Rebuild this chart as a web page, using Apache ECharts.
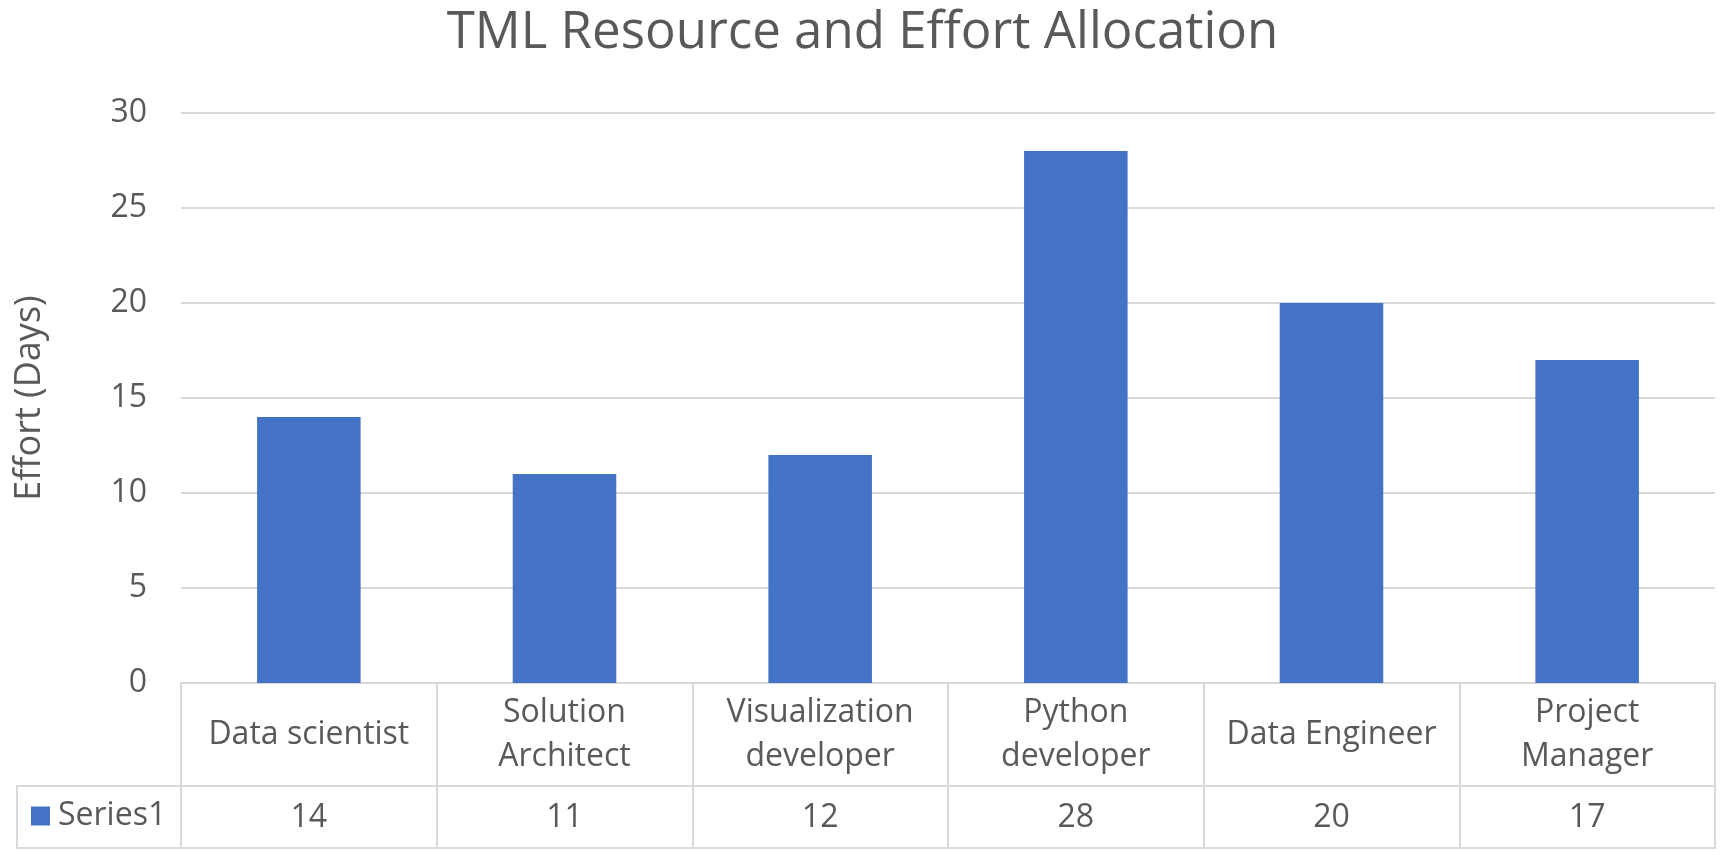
<!DOCTYPE html>
<html>
<head>
<meta charset="utf-8">
<script src="https://cdn.jsdelivr.net/npm/echarts@6/dist/echarts.min.js"></script>
<style>
html,body{margin:0;padding:0;background:#fff;}
#chart{width:1725px;height:855px;}
</style>
</head>
<body>
<div id="chart"></div>
<script>
const titleText = 'TML Resource and Effort Allocation';
const yAxisTitle = 'Effort (Days)';
const seriesName = 'Series1';
const categories = ['Data scientist', 'Solution\nArchitect', 'Visualization\ndeveloper', 'Python\ndeveloper', 'Data Engineer', 'Project\nManager'];
const values = [14, 11, 12, 28, 20, 17];
const yTicks = { min: 0, max: 30, interval: 5 };

const FONT = '"Open Sans", "Noto Sans", sans-serif';
const TXT = '#595959';
const LINE = '#D9D9D9';
const FS = 32;

const chart = echarts.init(document.getElementById('chart'));
chart.setOption({
  animation: false,
  backgroundColor: '#ffffff',
  textStyle: { fontFamily: FONT },
  title: {
    text: titleText,
    left: 'center',
    top: 3,
    textStyle: { fontFamily: FONT, fontSize: 51, fontWeight: 'normal', color: TXT }
  },
  legend: {
    data: [seriesName],
    left: 31,
    top: 800,
    padding: 0,
    icon: 'rect',
    itemWidth: 19,
    itemHeight: 19,
    textStyle: { fontFamily: FONT, fontSize: FS, color: TXT, padding: [0, 0, 0, 3] }
  },
  grid: { left: 181, right: 10, top: 113, bottom: 172, containLabel: false },
  xAxis: [
    {
      type: 'category',
      data: categories,
      position: 'bottom',
      axisLine: { show: true, lineStyle: { color: LINE, width: 2 } },
      axisTick: { show: true, interval: 0, alignWithLabel: false, length: 165, lineStyle: { color: LINE, width: 2 } },
      axisLabel: { interval: 0, margin: 52, verticalAlign: 'middle', fontFamily: FONT, fontSize: FS, lineHeight: 44, color: TXT }
    },
    {
      type: 'category',
      data: categories,
      position: 'bottom',
      offset: 103,
      axisLine: { show: true, lineStyle: { color: LINE, width: 2 } },
      axisTick: { show: false },
      axisLabel: { interval: 0, margin: 32, verticalAlign: 'middle', fontFamily: FONT, fontSize: FS, color: TXT,
        formatter: function (v, i) { return String(values[i]); } }
    },
    {
      type: 'category',
      data: categories,
      position: 'bottom',
      offset: 165,
      axisLine: { show: true, lineStyle: { color: LINE, width: 2 } },
      axisTick: { show: false },
      axisLabel: { show: false }
    }
  ],
  yAxis: {
    type: 'value',
    min: yTicks.min,
    max: yTicks.max,
    interval: yTicks.interval,
    name: yAxisTitle,
    nameLocation: 'middle',
    nameRotate: 90,
    nameGap: 133,
    nameTextStyle: { fontFamily: FONT, fontSize: 36, color: TXT },
    axisLine: { show: false },
    axisTick: { show: false },
    splitLine: { show: true, lineStyle: { color: LINE, width: 2 } },
    axisLabel: { margin: 34, fontFamily: FONT, fontSize: FS, color: TXT }
  },
  series: [{
    name: seriesName,
    type: 'bar',
    xAxisIndex: 0,
    data: values,
    barWidth: '40.5%',
    itemStyle: { color: '#4472C4' }
  }],
  graphic: [{
    type: 'rect',
    shape: { x: 17, y: 786, width: 164, height: 62 },
    style: { fill: 'none', stroke: LINE, lineWidth: 2 },
    z: 0
  }]
});
</script>
</body>
</html>
